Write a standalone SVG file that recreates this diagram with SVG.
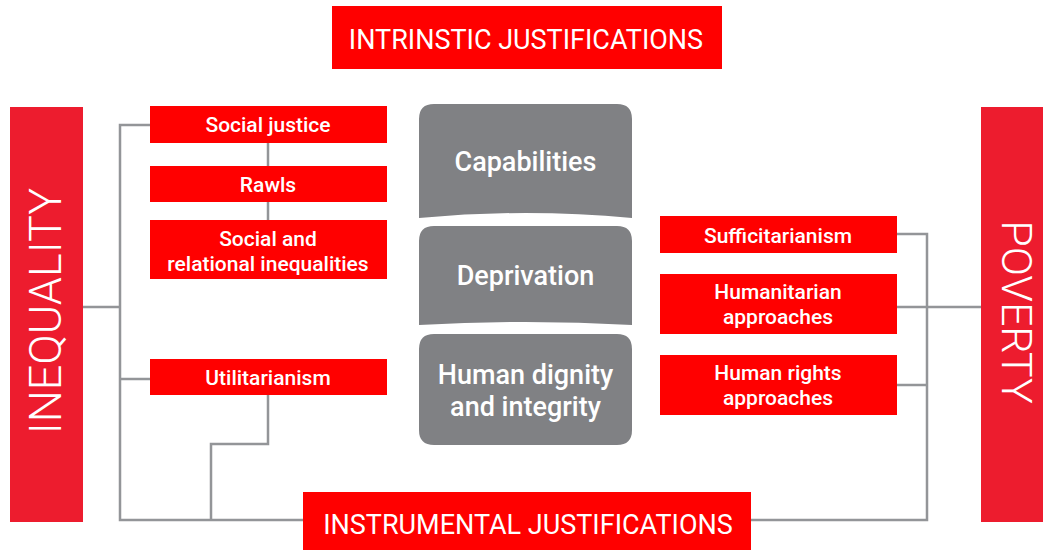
<svg xmlns="http://www.w3.org/2000/svg" width="1043" height="550" viewBox="0 0 1043 550">
<style>
.bar{fill:#ed1c2e}
.box{fill:#ff0000}
.grey{fill:#808184}
.lbl{font-family:Roboto,"Liberation Sans",sans-serif;font-size:21px;font-weight:500;fill:#fff;text-anchor:middle}
.big{font-family:Roboto,"Liberation Sans",sans-serif;font-size:27px;font-weight:400;fill:#fff;text-anchor:middle}
.side{font-family:Roboto,"Liberation Sans",sans-serif;font-weight:300;fill:#fff;text-anchor:middle}
.gl{font-family:Roboto,"Liberation Sans",sans-serif;font-size:27px;font-weight:500;fill:#fff;text-anchor:middle}
.conn{fill:none;stroke:#939598;stroke-width:2.5}
</style>
<rect width="1043" height="550" fill="#fff"/>
<g id="connectors">
<polyline class="conn" points="150,125 120,125 120,520 303,520"/>
<line class="conn" x1="82" y1="307" x2="120" y2="307"/>
<line class="conn" x1="120" y1="379" x2="150" y2="379"/>
<line class="conn" x1="268" y1="143" x2="268" y2="166"/>
<line class="conn" x1="268" y1="202" x2="268" y2="220"/>
<polyline class="conn" points="268,395 268,444 211,444 211,520"/>
<polyline class="conn" points="897,234 927,234 927,520 750,520"/>
<line class="conn" x1="897" y1="307" x2="981" y2="307"/>
<line class="conn" x1="897" y1="385" x2="927" y2="385"/>
</g>
<g id="intrinsic">
<rect class="box" x="332" y="6" width="390" height="63"/>
<text class="big" x="526" y="48.5">INTRINSTIC JUSTIFICATIONS</text>
</g>
<g id="instrumental">
<rect class="box" x="303" y="492" width="448" height="58"/>
<text class="big" x="528" y="534">INSTRUMENTAL JUSTIFICATIONS</text>
</g>
<g id="inequality">
<rect class="bar" x="10" y="107" width="73" height="415"/>
<text class="side" font-size="45" transform="translate(61,311) rotate(-90)">INEQUALITY</text>
</g>
<g id="poverty">
<rect class="bar" x="981" y="107" width="62" height="415"/>
<text class="side" font-size="43" transform="translate(1002,312) rotate(90)">POVERTY</text>
</g>
<g id="social-justice">
<rect class="box" x="150" y="106" width="237" height="37"/>
<text class="lbl" x="268" y="132">Social justice</text>
</g>
<g id="rawls">
<rect class="box" x="150" y="166" width="237" height="36"/>
<text class="lbl" x="268" y="191.5">Rawls</text>
</g>
<g id="social-relational">
<rect class="box" x="150" y="220" width="237" height="59"/>
<text class="lbl" x="268" y="245.5">Social and</text>
<text class="lbl" x="268" y="270.5">relational inequalities</text>
</g>
<g id="utilitarianism">
<rect class="box" x="150" y="359" width="237" height="36"/>
<text class="lbl" x="268" y="385">Utilitarianism</text>
</g>
<g id="sufficitarianism">
<rect class="box" x="660" y="216" width="237" height="37"/>
<text class="lbl" x="778" y="242.5">Sufficitarianism</text>
</g>
<g id="humanitarian">
<rect class="box" x="660" y="274" width="237" height="60"/>
<text class="lbl" x="778" y="299">Humanitarian</text>
<text class="lbl" x="778" y="324">approaches</text>
</g>
<g id="human-rights">
<rect class="box" x="660" y="355" width="237" height="60"/>
<text class="lbl" x="778" y="379.5">Human rights</text>
<text class="lbl" x="778" y="404.5">approaches</text>
</g>
<g id="capabilities">
<path class="grey" d="M419,119 Q419,104 434,104 H617 Q632,104 632,119 V218 Q525.5,208 419,218 Z"/>
<text class="gl" x="525.5" y="171">Capabilities</text>
</g>
<g id="deprivation">
<path class="grey" d="M419,241 Q419,226 434,226 H617 Q632,226 632,241 V325 Q525.5,319 419,325 Z"/>
<text class="gl" x="525.5" y="285">Deprivation</text>
</g>
<g id="human-dignity">
<path class="grey" d="M419,349 Q419,334 434,334 H617 Q632,334 632,349 V430 Q632,445 617,445 H434 Q419,445 419,430 Z"/>
<text class="gl" x="525.5" y="384">Human dignity</text>
<text class="gl" x="525.5" y="416">and integrity</text>
</g>
</svg>
